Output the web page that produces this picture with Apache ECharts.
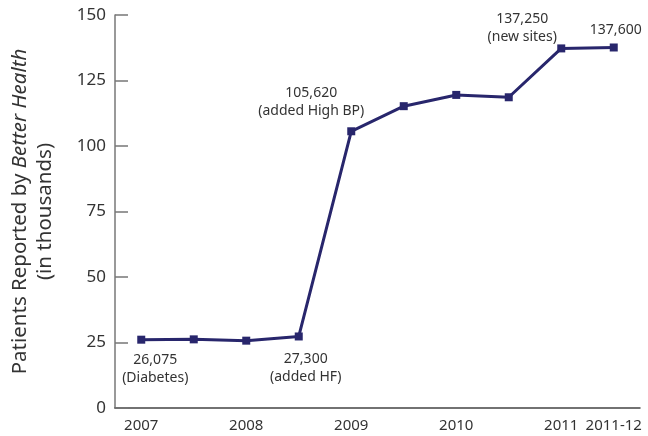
<!DOCTYPE html>
<html lang="en">
<head>
    <meta charset="UTF-8">
    <title>Better Health patients</title>
    <script src="https://cdn.jsdelivr.net/npm/echarts@6/dist/echarts.min.js"></script>
    <style>
        html, body { margin: 0; padding: 0; background: #fff; }
        #main { width: 648px; height: 436px; }
    </style>
</head>
<body>
<div id="main"></div>
<script>
    // half-year periods
    var periods = ['2007', '2007-H2', '2008', '2008-H2', '2009', '2009-H2', '2010', '2010-H2', '2011', '2011-12'];
    var tickLabels = ['2007', '', '2008', '', '2009', '', '2010', '', '2011', '2011-12'];
    // patients in thousands
    var patients = [26.075, 26.2, 25.7, 27.3, 105.62, 115.2, 119.5, 118.6, 137.25, 137.6];
    var yTicks = [0, 25, 50, 75, 100, 125, 150];
    var noteIdx = [0, 3, 4, 8, 9];
    var noteText = ['26,075\n(Diabetes)', '27,300\n(added HF)', '105,620\n(added High BP)', '137,250\n(new sites)', '137,600'];

    var font = '"Noto Sans", sans-serif';
    var navy = '#28266c';

    // where each note sits relative to its point
    var notePos = [
        { position: 'bottom', offset: [14, 2] },
        { position: 'bottom', offset: [7, 5] },
        { position: 'top', offset: [-40, -2] },
        { position: 'top', offset: [-39, 7] },
        { position: 'top', offset: [2, 1] }
    ];

    var seriesData = patients.map(function (v, i) {
        var k = noteIdx.indexOf(i);
        if (k < 0) return v;
        return {
            value: v,
            label: {
                show: true,
                position: notePos[k].position,
                offset: notePos[k].offset,
                formatter: noteText[k],
                fontFamily: font,
                fontSize: 14,
                lineHeight: 18,
                color: '#333'
            }
        };
    });

    var myChart = echarts.init(document.getElementById('main'));
    var option = {
        animation: false,
        grid: { left: 115, right: 8, top: 15, bottom: 28, outerBoundsMode: 'none' },
        xAxis: {
            type: 'category',
            data: periods,
            boundaryGap: true,
            axisLine: { lineStyle: { color: '#444', width: 1.5 } },
            axisTick: { show: false },
            axisLabel: {
                interval: 0,
                margin: 10,
                fontFamily: font,
                fontSize: 15,
                color: '#333',
                formatter: function (v, i) { return tickLabels[i]; }
            }
        },
        yAxis: {
            type: 'value',
            min: yTicks[0],
            max: yTicks[yTicks.length - 1],
            interval: 25,
            splitLine: { show: false },
            axisLine: { show: true, lineStyle: { color: '#777', width: 1.5 } },
            axisTick: { show: true, inside: true, length: 13, lineStyle: { color: '#777', width: 1.5 } },
            axisLabel: { margin: 9, fontFamily: font, fontSize: 17, color: '#333' },
            name: 'Patients Reported by {i|Better Health}\n(in thousands)',
            nameLocation: 'middle',
            nameGap: 57,
            nameTextStyle: {
                fontFamily: font,
                fontSize: 20.5,
                lineHeight: 25,
                color: '#333',
                rich: {
                    i: { fontFamily: font, fontSize: 20.5, fontStyle: 'italic', color: '#333' }
                }
            }
        },
        series: [{
            type: 'line',
            data: seriesData,
            symbol: 'rect',
            symbolSize: 8,
            lineStyle: { color: navy, width: 3 },
            itemStyle: { color: navy }
        }]
    };
    myChart.setOption(option);
</script>
</body>
</html>
